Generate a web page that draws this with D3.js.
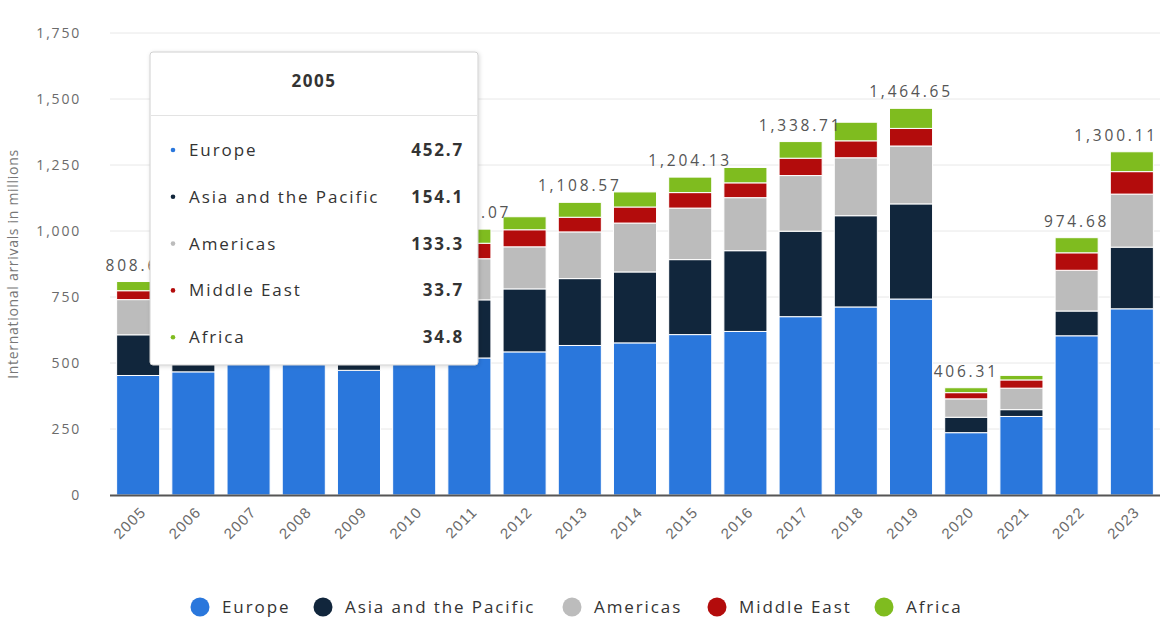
<!DOCTYPE html>
<html>
<head>
<meta charset="utf-8">
<script src="https://cdn.jsdelivr.net/npm/d3@7"></script>
<style>
  body { margin: 0; background: #fff; }
  svg { display: block; font-family: 'Open Sans', sans-serif; }
</style>
</head>
<body>
<div id="chart"></div>
<script>
var years = ['2005', '2006', '2007', '2008', '2009', '2010', '2011', '2012', '2013', '2014',
  '2015', '2016', '2017', '2018', '2019', '2020', '2021', '2022', '2023'];

var seriesNames = ['Europe', 'Asia and the Pacific', 'Americas', 'Middle East', 'Africa'];
var seriesColors = ['#2a77dc', '#11263c', '#bcbcbc', '#b30c0c', '#7fbc1f'];

var europe = [452.7, 466.5, 495.2, 497.1, 472.3, 500.4, 519.0, 542.1, 566.4, 576.2,
  607.6, 619.5, 675.5, 712.3, 742.3, 236.1, 297.5, 603.1, 705.3];
var asiaPacific = [154.1, 167.3, 182.0, 184.1, 181.1, 205.4, 220.2, 238.6, 253.3, 268.7,
  284.0, 305.9, 323.7, 345.6, 360.4, 58.4, 25.8, 93.8, 233.6];
var americas = [133.3, 135.8, 143.9, 147.8, 141.7, 150.6, 155.8, 159.4, 176.9, 185.2,
  195.2, 200.9, 210.8, 219.5, 219.3, 69.7, 81.4, 154.3, 200.9];
var middleEast = [33.7, 41.2, 47.1, 55.3, 53.2, 60.9, 58.6, 64.6, 55.5, 60.8,
  58.7, 56.1, 65.8, 64.2, 66.6, 23.5, 31.2, 66.2, 85.1];
var africa = [34.8, 40.9, 44.4, 44.4, 46.0, 50.4, 53.47, 49.3, 56.47, 57.1,
  58.63, 58.3, 62.91, 70.4, 76.05, 18.61, 17.2, 57.28, 75.21];

var yTicks = [0, 250, 500, 750, 1000, 1250, 1500, 1750];

var width = 1176, height = 620;
var plotLeft = 110, plotRight = 1160, plotTop = 33, plotBottom = 495;
var tipBox = { x: 150, y: 52, w: 328, h: 313 };

var rows = years.map(function (year, i) {
  return {
    year: year,
    'Europe': europe[i],
    'Asia and the Pacific': asiaPacific[i],
    'Americas': americas[i],
    'Middle East': middleEast[i],
    'Africa': africa[i]
  };
});

var svg = d3.select('#chart').append('svg')
  .attr('width', width)
  .attr('height', height);

var defs = svg.append('defs');
var shadow = defs.append('filter').attr('id', 'shadow')
  .attr('x', '-10%').attr('y', '-10%').attr('width', '130%').attr('height', '130%');
shadow.append('feDropShadow')
  .attr('dx', 1).attr('dy', 1).attr('stdDeviation', 2)
  .attr('flood-color', '#000').attr('flood-opacity', 0.15);

var x = d3.scaleBand()
  .domain(years)
  .range([plotLeft, plotRight])
  .paddingInner(0.22)
  .paddingOuter(0.12);

var y = d3.scaleLinear()
  .domain([0, 1750])
  .range([plotBottom, plotTop]);

var color = d3.scaleOrdinal().domain(seriesNames).range(seriesColors);

// grid lines
svg.append('g')
  .selectAll('line')
  .data(yTicks.filter(function (t) { return t > 0; }))
  .enter().append('line')
  .attr('x1', plotLeft)
  .attr('x2', plotRight)
  .attr('y1', function (d) { return y(d); })
  .attr('y2', function (d) { return y(d); })
  .attr('stroke', '#e8e8e8')
  .attr('stroke-width', 1);

// y axis labels
var yAxis = svg.append('g')
  .attr('transform', 'translate(' + (plotLeft - 26) + ',0)')
  .call(d3.axisLeft(y).tickValues(yTicks).tickSize(0).tickFormat(d3.format(',')));
yAxis.select('.domain').remove();
yAxis.selectAll('text')
  .attr('fill', '#6b6b6b')
  .attr('font-size', 14)
  .attr('letter-spacing', 1.8)
  .attr('font-family', "'Open Sans', sans-serif");

svg.append('text')
  .attr('transform', 'translate(18,' + 264 + ') rotate(-90)')
  .attr('text-anchor', 'middle')
  .attr('font-size', 14)
  .attr('letter-spacing', 0.7)
  .attr('fill', '#777')
  .text('International arrivals in millions');

// stacked bars
var stacked = d3.stack().keys(seriesNames)(rows);

svg.append('g')
  .selectAll('g')
  .data(stacked)
  .enter().append('g')
  .attr('fill', function (d) { return color(d.key); })
  .selectAll('rect')
  .data(function (d) { return d; })
  .enter().append('rect')
  .attr('x', function (d) { return x(d.data.year); })
  .attr('width', x.bandwidth())
  .attr('y', function (d) { return y(d[1]); })
  .attr('height', function (d) { return y(d[0]) - y(d[1]); })
  .attr('stroke', '#fff')
  .attr('stroke-width', 1);

// base line
svg.append('line')
  .attr('x1', plotLeft)
  .attr('x2', plotRight)
  .attr('y1', y(0) + 0.5)
  .attr('y2', y(0) + 0.5)
  .attr('stroke', '#555')
  .attr('stroke-width', 2);

// x axis labels
var xAxis = svg.append('g')
  .attr('transform', 'translate(0,' + (plotBottom + 12) + ')')
  .call(d3.axisBottom(x).tickSize(0));
xAxis.select('.domain').remove();
xAxis.selectAll('text')
  .attr('fill', '#6b6b6b')
  .attr('font-size', 15)
  .attr('letter-spacing', 1.3)
  .attr('text-anchor', 'end')
  .attr('dy', '0.35em')
  .attr('transform', 'translate(3,0) rotate(-45)');

// total labels, hiding ones that collide (left to right)
var totals = rows.map(function (r) {
  return d3.sum(seriesNames, function (k) { return r[k]; });
});
var fmt = d3.format(',.2f');
var labelGroup = svg.append('g');
var shownBoxes = [];
totals.forEach(function (total, i) {
  var cx = x(years[i]) + x.bandwidth() / 2;
  var ty = y(total) - 11;
  var t = labelGroup.append('text')
    .attr('x', cx)
    .attr('y', ty)
    .attr('text-anchor', 'middle')
    .attr('font-size', 15.5)
    .attr('letter-spacing', 2.8)
    .attr('fill', '#555')
    .text(fmt(total));
  var b = t.node().getBBox();
  // keep inside the plot on the right
  var over = b.x + b.width - (plotRight - 2);
  if (over > 0) {
    t.attr('x', cx - over);
    b = t.node().getBBox();
  }
  var box = { x0: b.x - 4, x1: b.x + b.width + 4, y0: b.y - 5, y1: b.y + b.height + 5 };
  var hit = shownBoxes.some(function (o) {
    return box.x0 < o.x1 && box.x1 > o.x0 && box.y0 < o.y1 && box.y1 > o.y0;
  });
  if (hit) {
    t.remove();
    return;
  }
  shownBoxes.push(box);
  // fully behind the tooltip: nothing would be visible
  if (b.x > tipBox.x && b.x + b.width < tipBox.x + tipBox.w &&
      b.y > tipBox.y && b.y + b.height < tipBox.y + tipBox.h) {
    t.remove();
  }
});

// legend
var legendX = [200, 323, 572, 717, 884];
var legend = svg.append('g')
  .selectAll('g')
  .data(seriesNames)
  .enter().append('g')
  .attr('transform', function (d, i) { return 'translate(' + legendX[i] + ',607)'; });
legend.append('circle')
  .attr('r', 9.5)
  .attr('fill', function (d) { return color(d); });
legend.append('text')
  .attr('x', 22)
  .attr('dy', '0.35em')
  .attr('font-size', 17)
  .attr('letter-spacing', 1.9)
  .attr('fill', '#333')
  .text(function (d) { return d; });

// tooltip for the first year
var tipIndex = 0;
var tip = svg.append('g').attr('transform', 'translate(' + tipBox.x + ',' + tipBox.y + ')');
tip.append('rect')
  .attr('width', tipBox.w)
  .attr('height', tipBox.h)
  .attr('rx', 3)
  .attr('fill', '#fff')
  .attr('stroke', '#d0d0d0')
  .attr('filter', 'url(#shadow)');
tip.append('text')
  .attr('x', tipBox.w / 2)
  .attr('y', 35)
  .attr('text-anchor', 'middle')
  .attr('font-size', 17)
  .attr('font-weight', 'bold')
  .attr('letter-spacing', 1.5)
  .attr('fill', '#333')
  .text(years[tipIndex]);
tip.append('line')
  .attr('x1', 1).attr('x2', tipBox.w - 1)
  .attr('y1', 63.5).attr('y2', 63.5)
  .attr('stroke', '#e3e3e3');
var tipRows = tip.selectAll('g.row')
  .data(seriesNames)
  .enter().append('g')
  .attr('class', 'row')
  .attr('transform', function (d, i) { return 'translate(0,' + (98 + i * 46.8) + ')'; });
tipRows.append('circle')
  .attr('cx', 23)
  .attr('r', 2.3)
  .attr('fill', function (d) { return color(d); });
tipRows.append('text')
  .attr('x', 39)
  .attr('dy', '0.35em')
  .attr('font-size', 17)
  .attr('letter-spacing', 1.9)
  .attr('fill', '#333')
  .text(function (d) { return d; });
tipRows.append('text')
  .attr('x', 314)
  .attr('dy', '0.35em')
  .attr('text-anchor', 'end')
  .attr('font-size', 17)
  .attr('font-weight', 'bold')
  .attr('letter-spacing', 1.8)
  .attr('fill', '#333')
  .text(function (d) { return d3.format('.1f')(rows[tipIndex][d]); });
</script>
</body>
</html>
